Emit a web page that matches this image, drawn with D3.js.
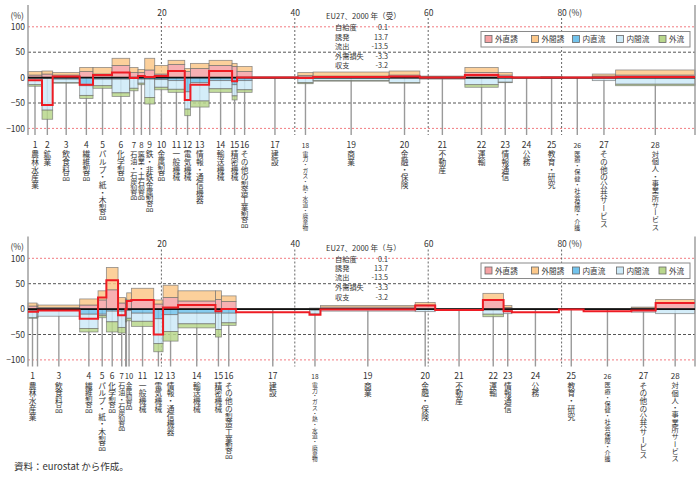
<!DOCTYPE html>
<html><head><meta charset="utf-8">
<script src="https://cdn.jsdelivr.net/npm/d3@7"></script>
<style>
body{margin:0;background:#fff}
svg{display:block}
text{font-family:"Noto Sans CJK JP","Noto Sans",sans-serif;fill:#333}
</style>
</head><body>
<svg id="c" width="700" height="479"></svg>
<script>
// ---------------- data ----------------
const industries = ["農林水産業","鉱業","飲食料品","繊維製品","パルプ・紙・木製品","化学製品","石油・石炭製品","窯業・土石製品","鉄・非鉄金属製品","金属製品","一般機械","電気機械","情報・通信機器","輸送機械","精密機械","その他の製造工業製品","建設","電力・ガス・熱・水道・廃棄物","商業","金融・保険","不動産","運輸","情報通信","公務","教育・研究","医療・保健・社会保障・介護","その他の公共サービス","対個人・事業所サービス"];
const seriesNames = ["外直誘","外間誘","内直流","内間流","外流"];
const xTicks = [20, 40, 60, 80];
const yTicks = [100, 50, 0, -50, -100];
const statLabels = ["自給度","誘発","流出","外需損失","収支"];
const statValues = [0.1, 13.7, -13.5, -3.3, -3.2];

// 受 (upper panel)
const shareRecv   = [2.1,1.6,4.05,2.0,2.85,2.65,1.25,1.0,1.5,2.0,2.5,0.85,2.8,3.45,0.75,2.25,6.85,2.3,11.4,4.6,6.75,5.0,2.1,4.3,3.2,4.5,3.5,11.9];
const gaiChokuRecv = [5,7,5,12,7,24,10,10,15,7,26,12,18,24,22,12,0.5,4,3,5,1,10,5,0.3,1,0.3,3,5];
const gaiKanRecv   = [7,6,5,8,13,14,10,6,23,17,8,6,10,10,6,10,0.5,6,8,8,2,10,5,0.3,0.5,0.3,4,10];
const naiChokuRecv = [-2,-2,-3,-16,-3,-3,-2,-3,-3,-4,-6,-28,-10,-6,-14,-6,-0.5,-1,-1,-1,-1,-2,-1,-0.3,-1,-0.3,-1,-1];
const naiKanRecv   = [-12,-62,-7,-19,-13,-27,-19,-8,-36,-15,-17,-34,-36,-16,-22,-18,-1,-9,-5,-9,-2,-12,-8,-0.3,-1,-0.5,-5,-12];
const gaiRyuRecv   = [-3,-18,-1,-6,-5,-7,-5,-3,-13,-5,-6,-13,-12,-7,-8,-5,0,-2,-1,-1,0,-5,-1,0,0,0,0,-3];
const netRecv      = [-5,-54,2,-14,5,10,-1,3,1,3,13,-44,-14,13,-7,0,0,-1,1,2,0,5,1,0,0,0,0,1];

// 与 (lower panel)
const shareGive   = [1.35,0.15,6.25,2.75,1.25,1.75,1.1,0.1,0.1,0.7,3.35,1.4,2.25,5.6,0.9,2.2,11.0,1.65,14.2,3.0,7.15,3.1,1.25,7.05,3.7,7.15,3.65,5.85];
const gaiChokuGive = [6,5,3,8,18,38,12,10,10,18,18,10,23,16,19,15,0.3,1,4,8,0.3,18,3,0.3,0.3,0.3,2,13];
const gaiKanGive   = [6,5,5,12,18,44,11,10,10,14,23,8,24,20,17,11,0.3,1,3,5,0.3,13,4,0.3,0.3,0.3,2,6];
const naiChokuGive = [-3,-5,-2,-10,-10,-4,-4,-5,-5,-3,-8,-19,-11,-8,-8,-8,-0.5,-2,-1,-1,-0.3,-2,-2,-0.3,-0.3,-0.3,-2,-1];
const naiKanGive   = [-14,-10,-12,-28,-3,-21,-32,-15,-15,-15,-16,-49,-33,-21,-32,-19,-0.5,-7,-3,-4,-0.5,-8,-7,-0.5,-0.3,-0.5,-4,-8];
const gaiRyuGive   = [-1,-2,0,-7,-4,-20,-11,-5,-5,-5,-10,-16,-19,-8,-15,-5,0,0,0,0,0,-5,0,0,0,0,0,0];
const netGive      = [-5,-5,-3,-19,23,57,-12,0,0,16,18,-50,3,8,-4,0,-6,-11,-1,7,-2,18,-4,-6,-1,-4,-3,12];
const hiddenGive = [2, 8, 9];

// ---------------- drawing ----------------
const svg = d3.select("#c");
const X0 = 28, X1 = 695;
const x = d3.scaleLinear().domain([0, 100]).range([X0, X1]);
const colors = ["#f6a2a4", "#fcc88a", "#72c3ec", "#cdeaf8", "#b9d78c"];
const RED = "#e8404a";

function panel(oy, shares, comps, net, hidden, title) {
  const g = svg.append("g").attr("transform", `translate(0,${oy})`);
  const y = d3.scaleLinear().domain([-100, 100]).range([128.4, 26.8]);
  const axTop = 5, axBot = 135;

  // horizontal grid lines
  yTicks.filter(t => t !== 0).forEach(t => {
    const big = Math.abs(t) === 100;
    g.append("line").attr("x1", X0).attr("x2", X1).attr("y1", y(t)).attr("y2", y(t))
      .attr("stroke", big ? "#f27b80" : "#555").attr("stroke-width", 1)
      .attr("stroke-dasharray", big ? "2,2" : "3,2");
  });
  // vertical dotted grid
  xTicks.forEach(t => {
    g.append("line").attr("x1", x(t)).attr("x2", x(t)).attr("y1", 18).attr("y2", axBot)
      .attr("stroke", "#666").attr("stroke-width", 1).attr("stroke-dasharray", "2,2");
  });
  // top tick labels
  const xa = g.append("g").attr("transform", "translate(0,15.5)")
    .call(d3.axisTop(x).tickValues(xTicks).tickSize(0).tickPadding(0));
  xa.select(".domain").remove();
  xa.selectAll("text").attr("font-size", 8.5).attr("fill", "#444").style("font-family", "'Noto Sans CJK JP',sans-serif");
  g.append("text").attr("x", x(80) + 7).attr("y", 15.5).attr("font-size", 8.5).attr("fill", "#444").text("(%)");

  // y axis labels
  const ya = g.append("g").attr("transform", "translate(25,0)")
    .call(d3.axisLeft(y).tickValues(yTicks).tickSize(0).tickPadding(0));
  ya.select(".domain").remove();
  ya.selectAll("text").attr("font-size", 8.5)
    .style("font-family", "'Noto Sans CJK JP',sans-serif")
    .attr("fill", d => Math.abs(d) === 100 ? RED : "#444");
  g.append("text").attr("x", 24).attr("y", 18.5).attr("text-anchor", "end").attr("font-size", 8.5).attr("fill", "#444").text("(%)");

  // bars geometry
  let cum = 0;
  const bars = shares.map((s, i) => { const b = { i, x0: cum, x1: cum + s }; cum += s; return b; });

  // vertical center lines
  g.selectAll(".cl").data(bars).join("line")
    .attr("x1", b => x((b.x0 + b.x1) / 2)).attr("x2", b => x((b.x0 + b.x1) / 2))
    .attr("y1", y(0)).attr("y2", axBot)
    .attr("stroke", "#9a9a9a").attr("stroke-width", 1.4);

  // stacked segments
  const segs = [];
  bars.forEach(b => {
    let p = 0, n = 0;
    comps.forEach((arr, k) => {
      const v = arr[b.i];
      if (v === 0) return;
      if (v > 0) { segs.push({ b, k, lo: p, hi: p + v }); p += v; }
      else { segs.push({ b, k, lo: n + v, hi: n }); n += v; }
    });
  });
  g.selectAll(".seg").data(segs).join("rect")
    .attr("x", d => x(d.b.x0)).attr("width", d => x(d.b.x1) - x(d.b.x0))
    .attr("y", d => y(d.hi)).attr("height", d => Math.max(0.3, y(d.lo) - y(d.hi)))
    .attr("fill", d => colors[d.k]).attr("fill-opacity", 0.85)
    .attr("stroke", "#6d6d6d").attr("stroke-width", 0.8).attr("stroke-opacity", 0.75);

  // axis & right border
  g.append("line").attr("x1", X0).attr("x2", X0).attr("y1", axTop).attr("y2", axBot).attr("stroke", "#999").attr("stroke-width", 1.4);
  g.append("line").attr("x1", X1).attr("x2", X1).attr("y1", axTop).attr("y2", axBot).attr("stroke", "#999").attr("stroke-width", 1.4);

  // zero line
  g.append("line").attr("x1", X0).attr("x2", X1).attr("y1", y(0)).attr("y2", y(0)).attr("stroke", "#111").attr("stroke-width", 1.6);

  // net step line
  const pts = bars.flatMap(b => [[x(b.x0), y(net[b.i])], [x(b.x1), y(net[b.i])]]);
  g.append("path").attr("d", d3.line()(pts)).attr("fill", "none").attr("stroke", "#ee1c24").attr("stroke-width", 2);

  // stats block
  g.append("text").attr("x", 326).attr("y", 19).attr("font-size", 7.6).attr("fill", "#444").text(title);
  const rowY = [30, 39.5, 48.5, 58.5, 68];
  statLabels.forEach((l, i) => {
    g.append("text").attr("x", 335).attr("y", rowY[i]).attr("font-size", 7.2).attr("fill", "#444").text(l);
    g.append("text").attr("x", 388).attr("y", rowY[i]).attr("font-size", 7.2).attr("text-anchor", "end")
      .attr("fill", statValues[i] < 0 ? RED : "#444").text(statValues[i].toFixed(1));
  });

  // legend
  const lg = g.append("g");
  lg.append("rect").attr("x", 481).attr("y", 31.5).attr("width", 209).attr("height", 15.5)
    .attr("fill", "#fff").attr("stroke", "#8a8a8a").attr("stroke-width", 1);
  const lx = [485, 531.5, 572.5, 616.5, 659];
  seriesNames.forEach((s, k) => {
    lg.append("rect").attr("x", lx[k]).attr("y", 35.5).attr("width", 7).attr("height", 7)
      .attr("fill", colors[k]).attr("stroke", "#666").attr("stroke-width", 0.8);
    lg.append("text").attr("x", lx[k] + 10).attr("y", 42.3).attr("font-size", 7.6).attr("fill", "#444").text(s);
  });

  // category labels
  const shown = bars.filter(b => !hidden.includes(b.i + 1));
  shown.forEach((b, j) => {
    const cx = x((b.x0 + b.x1) / 2);
    const prev = j > 0 ? cx - x((shown[j - 1].x0 + shown[j - 1].x1) / 2) : 99;
    const next = j < shown.length - 1 ? x((shown[j + 1].x0 + shown[j + 1].x1) / 2) - cx : 99;
    const gap = Math.min(prev, next);
    const name = industries[b.i];
    const fs = Math.max(5.3, Math.min(7.7, gap - 0.4, 80 / name.length));
    const nfs = Math.min(8.5, fs + 0.8);
    g.append("text").attr("x", cx).attr("y", 147.5).attr("text-anchor", "middle")
      .attr("font-size", nfs).attr("fill", "#444").text(b.i + 1);
    g.append("text").attr("x", cx).attr("y", 150.5)
      .style("writing-mode", "vertical-rl").attr("font-size", fs).attr("fill", "#444").text(name);
  });
}

panel(0, shareRecv, [gaiChokuRecv, gaiKanRecv, naiChokuRecv, naiKanRecv, gaiRyuRecv], netRecv, [], "EU27、2000 年（受）");
panel(231.5, shareGive, [gaiChokuGive, gaiKanGive, naiChokuGive, naiKanGive, gaiRyuGive], netGive, hiddenGive, "EU27、2000 年（与）");

svg.append("text").attr("x", 14).attr("y", 470).attr("font-size", 9.5).attr("fill", "#444").text("資料：eurostat から作成。");
</script>
</body></html>
